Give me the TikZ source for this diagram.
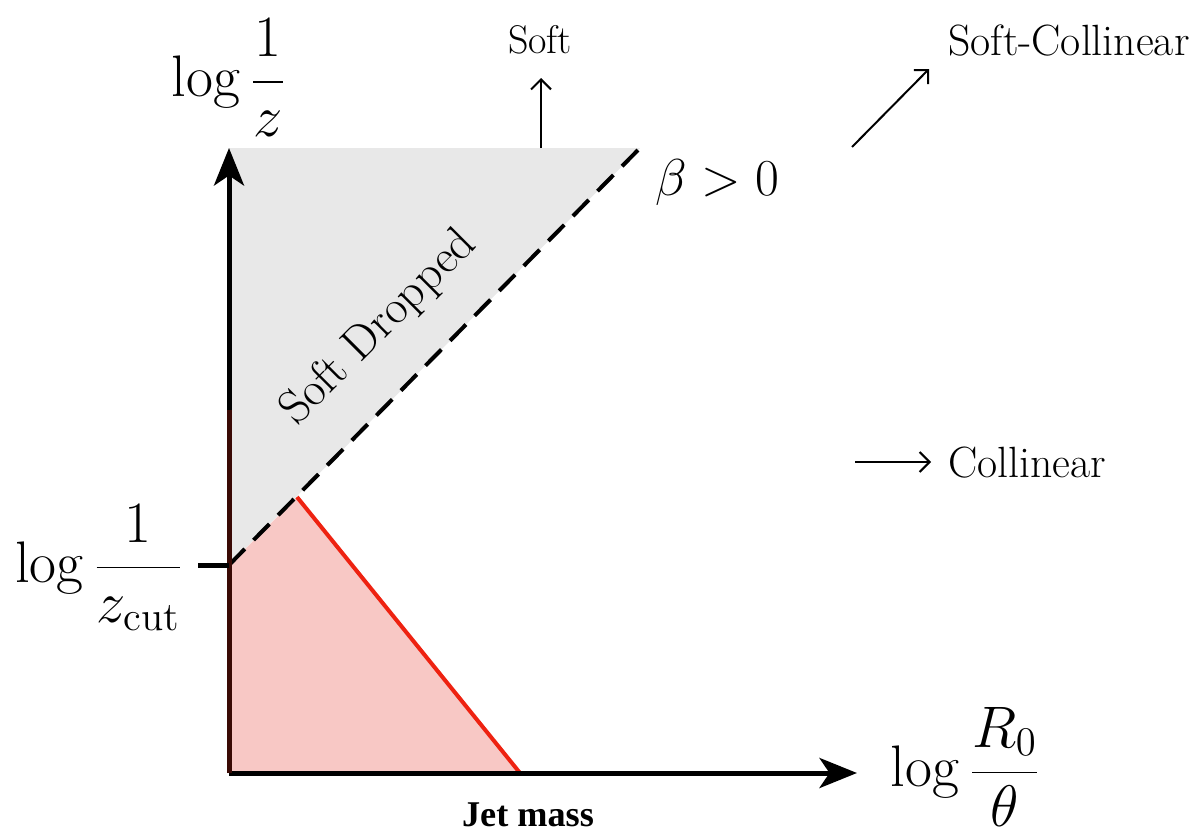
\documentclass[tikz,border=0pt]{standalone}
\usepackage{fontspec}
\newfontfamily\timesfont{Liberation Serif}
\usetikzlibrary{arrows.meta}
\definecolor{greyfill}{HTML}{E8E8E8}
\definecolor{redfill}{HTML}{F8C8C5}
\definecolor{redline}{HTML}{EE2211}
\definecolor{darkred}{HTML}{3A0A05}
\newcommand{\biglab}[1]{\scalebox{1.13}{$\displaystyle #1$}}
\tikzset{
  axis/.style={line width=2pt, -{Stealth[length=15pt,width=12pt,inset=4pt]}},
  pointer/.style={line width=0.8pt, -{Straight Barb[length=4pt,width=8pt]}},
  mathlabel/.style={font=\huge, inner sep=0pt},
  textlabel/.style={font=\fontsize{17.5}{20}\selectfont, inner sep=0pt},
}
\begin{document}
\begin{tikzpicture}[x=0.4pt,y=0.4pt]
\useasboundingbox (0,0) rectangle (1195,836);
% key points
\coordinate (O) at (229,63);
\coordinate (ytip) at (229,688);
\coordinate (xtip) at (857,63);
\coordinate (zc) at (229,271);
\coordinate (TR) at (640,688);
\coordinate (R1) at (297,339);
\coordinate (R2) at (520,63);
\coordinate (redtop) at (229,426);
\coordinate (tickL) at (198,271);
% regions
\fill[greyfill] (O |- TR) -- (TR) -- (zc) -- cycle;
\fill[redfill] (O) -- (zc) -- (R1) -- (R2) -- cycle;
% dashed boundary
\draw[line width=1.6pt, dash pattern=on 9pt off 5pt] (zc) -- (TR);
% red emission line
\draw[redline, line width=1.6pt] (R1) -- (R2);
% axes
\draw[axis] (O) -- (xtip);
\draw[axis] (O) -- (ytip);
\draw[darkred, line width=2pt] (redtop) -- (O);
\draw[line width=2pt] (tickL) -- (zc);
% labels
\node[mathlabel] (ylab) at (229,758) {\biglab{\log\frac{1}{z}}};
\node[mathlabel, anchor=east] (zclab) at (184,268) {\biglab{\log\frac{1}{z_{\mathrm{cut}}}}};
\node[mathlabel, anchor=west] (xlab) at (890,69) {\biglab{\log\frac{R_0}{\theta}}};
\node[font=\huge, inner sep=0pt, anchor=west] (beta) at (655,653) {$\beta>0$};
\node[inner sep=0pt, font=\timesfont\bfseries\fontsize{14.5}{17}\selectfont] (jet) at (528,21) {Jet mass};
\node[inner sep=0pt, font=\fontsize{19}{22}\selectfont, rotate=45] (sd) at (379,508) {Soft Dropped};
% directions
\node[inner sep=0pt, font=\fontsize{16}{19}\selectfont] (soft) at (540,796) {Soft};
\coordinate (softA) at (541,688);
\coordinate (softB) at (541,758);
\draw[pointer] (softA) -- (softB);
\node[textlabel, anchor=west] (sc) at (948,796) {Soft-Collinear};
\coordinate (scA) at (852,689);
\coordinate (scB) at (929,767);
\draw[pointer] (scA) -- (scB);
\node[textlabel, anchor=west] (col) at (948,373) {Collinear};
\coordinate (colA) at (855,374);
\coordinate (colB) at (931,374);
\draw[pointer] (colA) -- (colB);
\end{tikzpicture}
\end{document}
